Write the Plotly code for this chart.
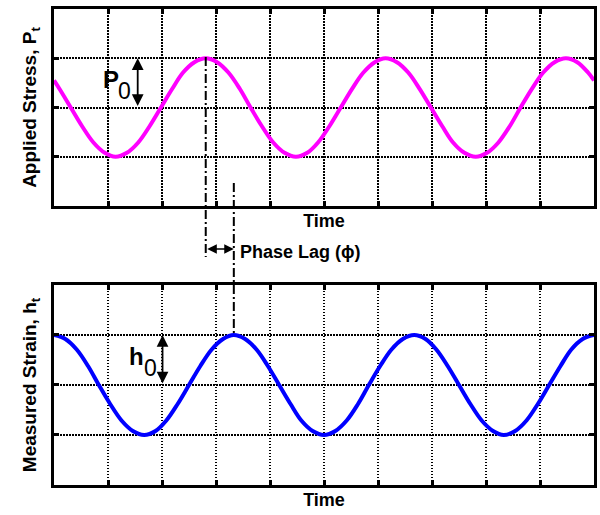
import plotly.graph_objects as go
from plotly.subplots import make_subplots

# Applied stress (top)
stress_t = [0, 0.10, 0.31, 0.52, 0.73, 0.94, 1.14, 1.35, 1.56, 1.77, 1.98, 2.19, 2.39, 2.60,
            2.81, 3.02, 3.23, 3.44, 3.64, 3.85, 4.06, 4.27, 4.48, 4.69, 4.89, 5.10, 5.31,
            5.52, 5.73, 5.94, 6.14, 6.35, 6.56, 6.77, 6.98, 7.19, 7.39, 7.60, 7.81, 8.02,
            8.23, 8.44, 8.64, 8.85, 9.06, 9.27, 9.48, 9.69, 9.89, 10]
stress_v = [0.55, 0.38, 0, -0.38, -0.71, -0.92, -1, -0.92, -0.71, -0.38, 0, 0.38, 0.71, 0.92,
            1, 0.92, 0.71, 0.38, 0, -0.38, -0.71, -0.92, -1, -0.92, -0.71, -0.38, 0,
            0.38, 0.71, 0.92, 1, 0.92, 0.71, 0.38, 0, -0.38, -0.71, -0.92, -1, -0.92,
            -0.71, -0.38, 0, 0.38, 0.71, 0.92, 1, 0.92, 0.71, 0.55]

# Measured strain (bottom)
strain_t = [0, 0.21, 0.42, 0.63, 0.83, 1.04, 1.25, 1.46, 1.67, 1.88, 2.08, 2.29, 2.5, 2.71,
            2.92, 3.13, 3.33, 3.54, 3.75, 3.96, 4.17, 4.38, 4.58, 4.79, 5.0, 5.21, 5.42,
            5.63, 5.83, 6.04, 6.25, 6.46, 6.67, 6.88, 7.08, 7.29, 7.5, 7.71, 7.92, 8.13,
            8.33, 8.54, 8.75, 8.96, 9.17, 9.38, 9.58, 9.79, 10]
strain_v = [1, 0.92, 0.71, 0.38, 0, -0.38, -0.71, -0.92, -1, -0.92, -0.71, -0.38, 0, 0.38,
            0.71, 0.92, 1, 0.92, 0.71, 0.38, 0, -0.38, -0.71, -0.92, -1, -0.92, -0.71,
            -0.38, 0, 0.38, 0.71, 0.92, 1, 0.92, 0.71, 0.38, 0, -0.38, -0.71, -0.92,
            -1, -0.92, -0.71, -0.38, 0, 0.38, 0.71, 0.92, 1]

stress_peak_t = 2.81
strain_peak_t = 3.33
amp_arrow_stress_t = 1.55
amp_arrow_strain_t = 2.01

x_ticks = [1, 2, 3, 4, 5, 6, 7, 8, 9]
y_ticks = [-1, 0, 1]

FONT = "Liberation Sans, Arial, sans-serif"

fig = make_subplots(rows=2, cols=1, vertical_spacing=0.1659)

fig.add_trace(go.Scatter(x=stress_t, y=stress_v, mode="lines",
                         line=dict(color="#FF00FF", width=4, shape="spline", smoothing=1),
                         showlegend=False), row=1, col=1)
fig.add_trace(go.Scatter(x=strain_t, y=strain_v, mode="lines",
                         line=dict(color="#0000FF", width=4, shape="spline", smoothing=1),
                         showlegend=False), row=2, col=1)

axis_common = dict(showline=True, linecolor="black", linewidth=3, mirror="ticks",
                   ticks="inside", ticklen=5, tickwidth=2.5, tickcolor="black",
                   showticklabels=False, showgrid=True, gridcolor="black",
                   gridwidth=1.5, griddash="1.5px,1.5px", zeroline=False)

fig.update_xaxes(range=[0, 10], tickvals=x_ticks, **axis_common)
fig.update_yaxes(range=[-2, 2], tickvals=y_ticks, **axis_common)

title_font = dict(family=FONT, size=18, color="black", weight="bold")
ytitle_font = dict(family=FONT, size=19, color="black", weight="bold")
fig.update_xaxes(title=dict(text="Time", font=title_font, standoff=7), row=1, col=1)
fig.update_xaxes(title=dict(text="Time", font=title_font, standoff=7), row=2, col=1)
fig.update_yaxes(title=dict(text="Applied Stress, P<sub>t</sub>", font=ytitle_font, standoff=10), row=1, col=1)
fig.update_yaxes(title=dict(text="Measured Strain, h<sub>t</sub>", font=ytitle_font, standoff=10), row=2, col=1)

fig.update_layout(
    width=600, height=515,
    margin=dict(l=54, r=3, t=9, b=30),
    paper_bgcolor="white", plot_bgcolor="white",
)
fig.update_yaxes(domain=[0.5861, 1.0], row=1, col=1)
fig.update_yaxes(domain=[0.0, 0.4202], row=2, col=1)

# Phase lag dash-dot guide lines
fig.add_shape(type="line", xref="x", yref="paper",
              x0=stress_peak_t, x1=stress_peak_t, y0=0.8992, y1=0.4790,
              line=dict(color="black", width=2, dash="9px,3px,2px,3px"))
fig.add_shape(type="line", xref="x", yref="paper",
              x0=strain_peak_t, x1=strain_peak_t, y0=0.6345, y1=0.3151,
              line=dict(color="black", width=2, dash="9px,3px,2px,3px"))

# Phase lag double arrow
fig.add_annotation(xref="x", yref="paper", x=strain_peak_t, y=0.4958,
                   axref="x", ayref="pixel", ax=stress_peak_t, ay=0,
                   text="", showarrow=True, arrowside="end+start",
                   arrowhead=2, arrowsize=1.2, arrowwidth=1.6, arrowcolor="black")
fig.add_annotation(xref="x", yref="paper", x=3.40, y=0.4895, xanchor="left",
                   yanchor="middle", text="Phase Lag (ϕ)", showarrow=False,
                   font=dict(family=FONT, size=18, color="black", weight="bold"))

# Amplitude arrows
fig.add_annotation(xref="x", yref="y", x=amp_arrow_stress_t, y=1,
                   axref="x", ayref="y", ax=amp_arrow_stress_t, ay=0,
                   text="", showarrow=True, arrowside="end+start",
                   arrowhead=2, arrowsize=1.3, arrowwidth=1.8, arrowcolor="black")
fig.add_annotation(xref="x2", yref="y2", x=amp_arrow_strain_t, y=1,
                   axref="x2", ayref="y2", ax=amp_arrow_strain_t, ay=0,
                   text="", showarrow=True, arrowside="end+start",
                   arrowhead=2, arrowsize=1.3, arrowwidth=1.8, arrowcolor="black")

# Amplitude labels
fig.add_annotation(xref="x", yref="y", x=1.06, y=0.56, text="P", showarrow=False,
                   font=dict(family=FONT, size=24, color="black", weight="bold"))
fig.add_annotation(xref="x", yref="y", x=1.31, y=0.33, text="0", showarrow=False,
                   font=dict(family=FONT, size=23, color="black"))
fig.add_annotation(xref="x2", yref="y2", x=1.52, y=0.56, text="h", showarrow=False,
                   font=dict(family=FONT, size=24, color="black", weight="bold"))
fig.add_annotation(xref="x2", yref="y2", x=1.78, y=0.33, text="0", showarrow=False,
                   font=dict(family=FONT, size=23, color="black"))

fig.write_html("out.html")
